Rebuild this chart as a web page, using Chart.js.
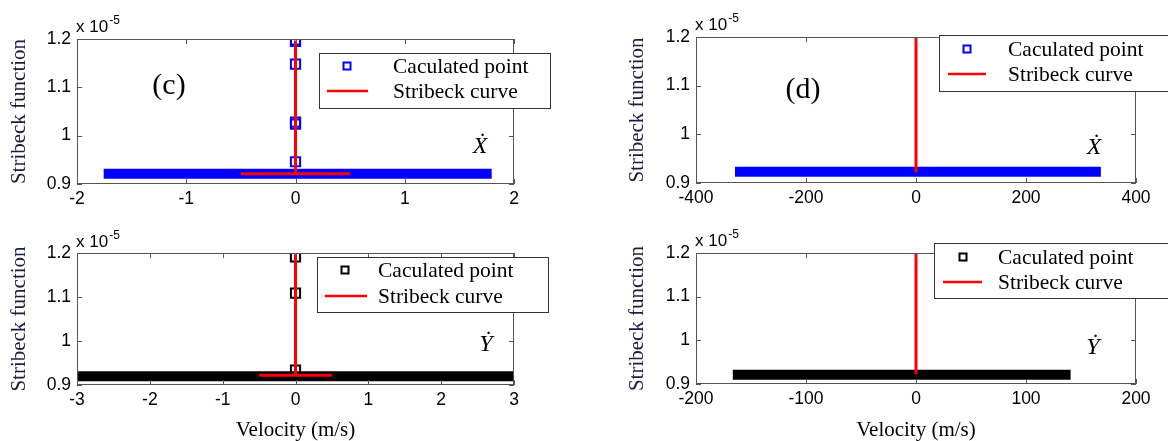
<!DOCTYPE html>
<html>
<head>
<meta charset="utf-8">
<script src="https://cdn.jsdelivr.net/npm/chart.js@4.4.1/dist/chart.umd.min.js"></script>
<style>
    html, body { margin: 0; padding: 0; background: #fff; }
    #wrap { position: relative; width: 1168px; height: 441px; overflow: hidden; }
    #wrap canvas { position: absolute; }
</style>
</head>
<body>
<div id="wrap">
    <canvas id="panelC" width="584" height="220" style="left:0;top:0"></canvas>
    <canvas id="panelCY" width="584" height="221" style="left:0;top:220px"></canvas>
    <canvas id="panelD" width="584" height="220" style="left:584px;top:0"></canvas>
    <canvas id="panelDY" width="584" height="221" style="left:584px;top:220px"></canvas>
</div>
<script>
// shared y axis (values in units of 1e-5)
const yTicks = [0.9, 1, 1.1, 1.2];
const legendLabels = ['Caculated point', 'Stribeck curve'];

// (c) X velocity
const xTicksC = [-2, -1, 0, 1, 2];
const bandC = [-1.71, 1.75];
const bandLevelC = 0.921;
const pointsYC = [1.198, 1.195, 1.148, 1.028, 1.024, 0.946];
const curveXC = [-0.5, 0, 0, 0, 0.5];
const curveYC = [0.921, 0.921, 1.197, 0.921, 0.921];

// (c) Y velocity
const xTicksCY = [-3, -2, -1, 0, 1, 2, 3];
const bandCY = [-3, 3];
const bandLevelCY = 0.92;
const pointsYCY = [1.191, 1.109, 0.934];
const curveXCY = [-0.5, 0, 0, 0, 0.5];
const curveYCY = [0.922, 0.922, 1.197, 0.922, 0.922];

// (d) X velocity
const xTicksD = [-400, -200, 0, 200, 400];
const bandD = [-320, 327];
const bandLevelD = 0.923;
const pointsYD = [];
const curveXD = [0, 0];
const curveYD = [0.922, 1.2];

// (d) Y velocity
const xTicksDY = [-200, -100, 0, 100, 200];
const bandDY = [-162, 136];
const bandLevelDY = 0.921;
const pointsYDY = [];
const curveXDY = [0, 0];
const curveYDY = [0.922, 1.2];

const SERIF = '"Liberation Serif", "Times New Roman", serif';
const SANS = '"Liberation Sans", Arial, sans-serif';

const framePlugin = {
    id: 'frame',
    afterDatasetsDraw(chart, args, o) {
        const {ctx, chartArea: a, scales: {x, y}} = chart;
        ctx.save();
        // axes box with inward ticks on all sides
        ctx.strokeStyle = '#555';
        ctx.lineWidth = 1;
        ctx.strokeRect(a.left + 0.5, a.top + 0.5, a.width - 1, a.height - 1);
        ctx.beginPath();
        x.ticks.forEach(t => {
            const px = Math.round(x.getPixelForValue(t.value)) + 0.5;
            ctx.moveTo(px, a.bottom); ctx.lineTo(px, a.bottom - 5);
            ctx.moveTo(px, a.top); ctx.lineTo(px, a.top + 5);
        });
        y.ticks.forEach(t => {
            const py = Math.round(y.getPixelForValue(t.value)) + 0.5;
            ctx.moveTo(a.left, py); ctx.lineTo(a.left + 5, py);
            ctx.moveTo(a.right, py); ctx.lineTo(a.right - 5, py);
        });
        ctx.stroke();

        // exponent label
        ctx.fillStyle = '#000';
        ctx.textBaseline = 'middle';
        ctx.textAlign = 'left';
        ctx.font = '17px ' + SANS;
        const ex = a.left + o.exp[0], ey = a.top + o.exp[1];
        ctx.fillText('x 10', ex, ey);
        const w = ctx.measureText('x 10').width;
        ctx.font = '12px ' + SANS;
        ctx.fillText('-5', ex + w + 1, ey - 6);

        // panel tag
        if (o.tag) {
            ctx.textAlign = 'center';
            ctx.font = '30px ' + SERIF;
            ctx.fillText(o.tag, a.left + o.tagPos[0], a.top + o.tagPos[1]);
        }
        // velocity symbol
        ctx.textAlign = 'center';
        ctx.font = 'italic 24px ' + SERIF;
        ctx.fillText(o.sym, a.left + o.symPos[0], a.top + o.symPos[1]);

        // legend box
        const L = o.legend;
        ctx.fillStyle = '#fff';
        ctx.fillRect(L.box[0], L.box[1], L.box[2], L.box[3]);
        ctx.strokeStyle = '#333';
        ctx.strokeRect(L.box[0] + 0.5, L.box[1] + 0.5, L.box[2], L.box[3]);
        ctx.textAlign = 'left';
        ctx.font = '21.5px ' + SERIF;
        chart.data.datasets.filter(d => d.legendKind).forEach((d, i) => {
            const ry = L.rows[i];
            if (d.legendKind === 'marker') {
                ctx.strokeStyle = d.borderColor;
                ctx.lineWidth = 2;
                ctx.strokeRect(L.marker - 3.5, ry - 3.5, 7, 7);
            } else {
                ctx.strokeStyle = d.borderColor;
                ctx.lineWidth = 2.5;
                ctx.beginPath();
                ctx.moveTo(L.line[0], ry); ctx.lineTo(L.line[1], ry);
                ctx.stroke();
            }
            ctx.fillStyle = '#000';
            ctx.fillText(d.label, L.text, ry + 1);
        });
        ctx.restore();
    }
};

function makePanel(id, p) {
    const canvas = document.getElementById(id);
    const W = canvas.width, H = canvas.height;
    const datasets = [{
        label: legendLabels[0],
        legendKind: 'marker',
        data: p.band.map(v => ({x: v, y: p.bandLevel})),
        showLine: true,
        borderColor: p.color,
        borderWidth: 10,
        borderCapStyle: 'square',
        pointRadius: 0,
        order: 2
    }, {
        label: legendLabels[0] + ' (zero velocity)',
        data: p.pointsY.map(v => ({x: 0, y: v})),
        showLine: false,
        pointStyle: 'rect',
        pointRadius: 6.5,
        pointBorderWidth: 2,
        pointBorderColor: p.color,
        pointBackgroundColor: 'rgba(0,0,0,0)',
        order: 1
    }, {
        label: legendLabels[1],
        legendKind: 'line',
        data: p.curveX.map((v, i) => ({x: v, y: p.curveY[i]})),
        showLine: true,
        borderColor: '#ff0000',
        borderWidth: 3,
        pointRadius: 0,
        order: 0
    }];

    new Chart(canvas, {
        type: 'scatter',
        data: {datasets: datasets},
        options: {
            responsive: false,
            animation: false,
            events: [],
            layout: {padding: {left: p.padLeft, top: p.area.top, right: W - p.area.right, bottom: 0}},
            plugins: {
                legend: {display: false},
                tooltip: {enabled: false},
                frame: p.deco
            },
            scales: {
                x: {
                    type: 'linear',
                    min: p.xTicks[0],
                    max: p.xTicks[p.xTicks.length - 1],
                    grid: {display: false, drawTicks: false},
                    border: {display: false},
                    afterBuildTicks: s => { s.ticks = p.xTicks.map(v => ({value: v})); },
                    ticks: {
                        padding: 5, color: '#000', maxRotation: 0, autoSkip: false,
                        font: {family: SANS, size: 17.5},
                        callback: v => String(v)
                    },
                    title: {
                        display: !!p.xTitle,
                        text: p.xTitle || '',
                        color: '#000',
                        font: {family: SERIF, size: 21, lineHeight: 1},
                        padding: {top: 0, bottom: 0}
                    },
                    afterFit: s => { s.height = H - p.area.bottom; }
                },
                y: {
                    type: 'linear',
                    min: yTicks[0],
                    max: yTicks[yTicks.length - 1],
                    grid: {display: false, drawTicks: false},
                    border: {display: false},
                    afterBuildTicks: s => { s.ticks = yTicks.map(v => ({value: v})); },
                    ticks: {
                        padding: 6, color: '#000',
                        font: {family: SANS, size: 17.5},
                        callback: v => String(+v.toFixed(1))
                    },
                    title: {
                        display: true,
                        text: 'Stribeck function',
                        color: '#1c1c3c',
                        font: {family: SERIF, size: 21, lineHeight: 1.2},
                        padding: {top: 7, bottom: 0}
                    },
                    afterFit: s => { s.width = p.area.left - p.padLeft; }
                }
            }
        },
        plugins: [framePlugin]
    });
}

makePanel('panelC', {
    xTicks: xTicksC, band: bandC, bandLevel: bandLevelC, pointsY: pointsYC,
    curveX: curveXC, curveY: curveYC, color: '#0000ff',
    area: {left: 77, right: 514, top: 39, bottom: 184}, padLeft: 0,
    deco: {
        exp: [-1, -12], tag: '(c)', tagPos: [92, 47], sym: '\u1E8A', symPos: [403, 108],
        legend: {box: [319, 53, 231, 55], rows: [66, 91], marker: 347, line: [327, 368], text: 393}
    }
});

makePanel('panelCY', {
    xTicks: xTicksCY, band: bandCY, bandLevel: bandLevelCY, pointsY: pointsYCY,
    curveX: curveXCY, curveY: curveYCY, color: '#000000', xTitle: 'Velocity (m/s)',
    area: {left: 77, right: 514, top: 33, bottom: 165}, padLeft: 0,
    deco: {
        exp: [-1, -11], tag: '', tagPos: [0, 0], sym: '\u1E8E', symPos: [409, 92],
        legend: {box: [317, 37, 231, 55], rows: [50, 76], marker: 345, line: [325, 367], text: 378}
    }
});

makePanel('panelD', {
    xTicks: xTicksD, band: bandD, bandLevel: bandLevelD, pointsY: pointsYD,
    curveX: curveXD, curveY: curveYD, color: '#0000ff',
    area: {left: 112, right: 552, top: 37, bottom: 183}, padLeft: 34,
    deco: {
        exp: [-1, -12], tag: '(d)', tagPos: [107, 53], sym: '\u1E8A', symPos: [398, 111],
        legend: {box: [355, 35, 260, 56], rows: [49, 74], marker: 383, line: [364, 402], text: 424}
    }
});

makePanel('panelDY', {
    xTicks: xTicksDY, band: bandDY, bandLevel: bandLevelDY, pointsY: pointsYDY,
    curveX: curveXDY, curveY: curveYDY, color: '#000000', xTitle: 'Velocity (m/s)',
    area: {left: 112, right: 552, top: 33, bottom: 164}, padLeft: 34,
    deco: {
        exp: [-1, -12], tag: '', tagPos: [0, 0], sym: '\u1E8E', symPos: [397, 95],
        legend: {box: [350, 23, 260, 55], rows: [37, 62], marker: 379, line: [359, 398], text: 414}
    }
});
</script>
</body>
</html>
